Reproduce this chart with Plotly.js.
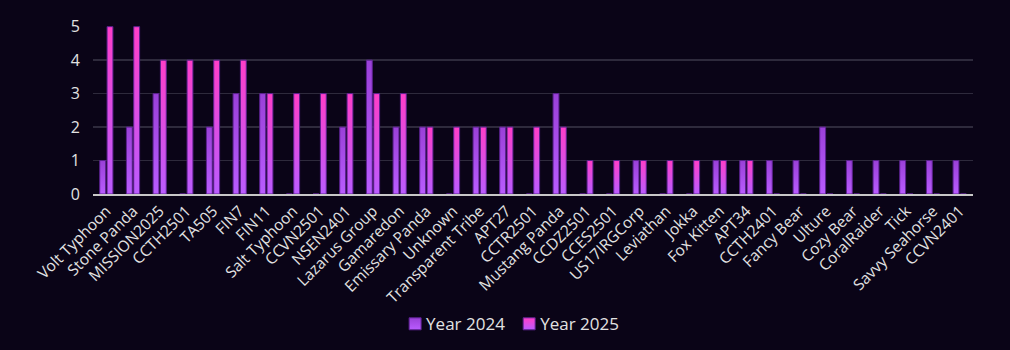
<!DOCTYPE html>
<html>
<head>
<meta charset="utf-8">
<script src="https://cdn.plot.ly/plotly-3.0.1.min.js"></script>
<style>
html,body{margin:0;padding:0;background:#0a0417;}
#chart{width:1010px;height:350px;}
</style>
</head>
<body>
<div id="chart"></div>
<script>
const categories = ["Volt Typhoon","Stone Panda","MISSION2025","CCTH2501","TA505","FIN7","FIN11","Salt Typhoon","CCVN2501","NSEN2401","Lazarus Group","Gamaredon","Emissary Panda","Unknown","Transparent Tribe","APT27","CCTR2501","Mustang Panda","CCDZ2501","CCES2501","US17IRGCorp","Leviathan","Jokka","Fox Kitten","APT34","CCTH2401","Fancy Bear","Ulture","Cozy Bear","CoralRaider","Tick","Savvy Seahorse","CCVN2401"];
const year2024 = [1,2,3,0,2,3,3,0,0,2,4,2,2,0,2,2,0,3,0,0,1,0,0,1,1,1,1,2,1,1,1,1,1];
const year2025 = [5,5,4,4,4,4,3,3,3,3,3,3,2,2,2,2,2,2,1,1,1,1,1,1,1,0,0,0,0,0,0,0,0];
const seriesNames = ["Year 2024","Year 2025"];

const font = "Century Gothic, 'Open Sans', Lato, sans-serif";
const traces = [
  {type:'bar', name:seriesNames[0], x:categories, y:year2024,
   marker:{color:'#a64ae8', line:{color:'#5c2290', width:1}}},
  {type:'bar', name:seriesNames[1], x:categories, y:year2025,
   marker:{color:'#e94ad8', line:{color:'#5c2290', width:1}}}
];
const layout = {
  width:1010, height:350,
  paper_bgcolor:'#0a0417', plot_bgcolor:'#0a0417',
  margin:{l:93, r:37, t:26, b:156, autoexpand:false},
  barmode:'group', bargap:0.45, bargroupgap:0.2,
  font:{family:font, color:'#e2e2e2', size:14},
  xaxis:{tickangle:-45, tickfont:{size:15.5, color:'#e2e2e2'}, showgrid:false,
         showline:true, linecolor:'#c8c8c8', linewidth:2, ticks:'', automargin:false},
  yaxis:{range:[0,5.02], dtick:1, tickfont:{size:16, color:'#e2e2e2'},
         gridcolor:'#2e2a3c', gridwidth:1.5, zeroline:false, showline:false, ticks:'',
         ticklabelstandoff:12, automargin:false},
  showlegend:true,
  legend:{orientation:'h', x:0.474, xanchor:'center', yref:'container', y:0.125, yanchor:'top',
          font:{size:17, color:'#e2e2e2'}, itemwidth:30, bgcolor:'rgba(0,0,0,0)'}
};

Plotly.newPlot('chart', traces, layout, {displayModeBar:false, staticPlot:true}).then(function(gd){
  const svg = gd.querySelector('svg.main-svg');
  const ns = 'http://www.w3.org/2000/svg';
  let defs = svg.querySelector('defs');
  if(!defs){defs = document.createElementNS(ns,'defs'); svg.insertBefore(defs, svg.firstChild);}
  const grads = [['#9a40d8','#b95cff'],['#ff3ec8','#ba5cff']];
  grads.forEach(function(g,i){
    const lg = document.createElementNS(ns,'linearGradient');
    lg.setAttribute('id','barGrad'+i);
    lg.setAttribute('x1','0'); lg.setAttribute('y1','0');
    lg.setAttribute('x2','0'); lg.setAttribute('y2','1');
    const s1 = document.createElementNS(ns,'stop');
    s1.setAttribute('offset','0'); s1.setAttribute('stop-color',g[0]);
    const s2 = document.createElementNS(ns,'stop');
    s2.setAttribute('offset','1'); s2.setAttribute('stop-color',g[1]);
    lg.appendChild(s1); lg.appendChild(s2); defs.appendChild(lg);
  });
  gd.querySelectorAll('.barlayer .trace').forEach(function(t,i){
    t.querySelectorAll('path').forEach(function(p){ p.style.fill = 'url(#barGrad'+i+')'; });
  });
  gd.querySelectorAll('.legend .traces').forEach(function(t,i){
    t.querySelectorAll('.legendpoints path').forEach(function(p){ p.style.fill = 'url(#barGrad'+i+')'; });
    const lp = t.querySelector('.legendpoints');
    if(lp) lp.setAttribute('transform','translate(9,0)');
    if(i>0){
      const tr = t.getAttribute('transform') || '';
      const m = tr.match(/translate\(\s*([-\d.]+)[ ,]+([-\d.]+)\s*\)/);
      if(m) t.setAttribute('transform','translate('+(parseFloat(m[1])-10*i)+','+m[2]+')');
    }
  });
});
</script>
</body>
</html>
